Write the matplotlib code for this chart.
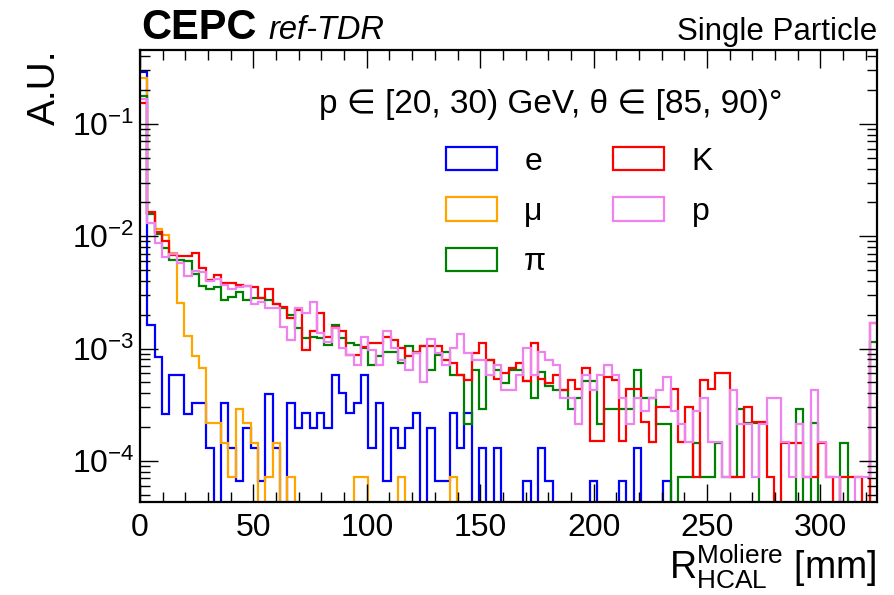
import numpy as np
import matplotlib
matplotlib.use('Agg')
import matplotlib.pyplot as plt
from matplotlib.patches import Patch
from matplotlib.ticker import MultipleLocator, LogLocator

plt.rcParams['font.family'] = ['Liberation Sans', 'DejaVu Sans']
plt.rcParams['mathtext.fontset'] = 'custom'
plt.rcParams['mathtext.rm'] = 'Liberation Sans'
plt.rcParams['mathtext.it'] = 'Liberation Sans:italic'
plt.rcParams['mathtext.bf'] = 'Liberation Sans:bold'

# 100 bins of R_HCAL^Moliere from 0 to 325 mm
edges = np.linspace(0, 325, 101)

labels = ['e', 'μ', 'π', 'K', 'p']
colors = ['#0000ff', '#ffa500', '#008000', '#ff0000', '#ee82ee']

e_vals = [0.29, 1.62e-3, 8.35e-4, 2.6e-4, 5.8e-4, 5.8e-4, 2.6e-4, 3.26e-4, 3.26e-4, 1.31e-4,
          0, 3.26e-4, 1.31e-4, 6.6e-5, 1.98e-4, 1.31e-4, 6.6e-5, 3.94e-4, 1.31e-4, 0,
          3.26e-4, 1.96e-4, 2.65e-4, 1.96e-4, 2.65e-4, 1.96e-4, 5.8e-4, 4.0e-4, 2.65e-4, 3.26e-4,
          5.8e-4, 1.31e-4, 3.26e-4, 6.6e-5, 1.96e-4, 1.31e-4, 1.96e-4, 2.65e-4, 0, 1.96e-4,
          6.6e-5, 6.6e-5, 2.65e-4, 1.31e-4, 2.65e-4, 0, 1.31e-4, 0, 1.31e-4, 0,
          0, 0, 6.6e-5, 0, 1.31e-4, 6.6e-5, 0, 0, 0, 0,
          0, 6.6e-5, 0, 0, 0, 6.6e-5, 0, 1.31e-4, 0, 0,
          0, 6.6e-5, 0, 0, 0, 0, 0, 0, 0, 0,
          0, 0, 0, 0, 0, 0, 0, 0, 0, 0,
          0, 0, 0, 0, 0, 0, 0, 0, 0, 0]

mu_vals = [0.256, 0.016, 0.0115, 0.0103, 0.0071, 2.56e-3, 1.29e-3, 8.6e-4, 6.67e-4, 2.19e-4,
           2.19e-4, 1.45e-4, 7.2e-5, 2.88e-4, 2.19e-4, 1.45e-4, 0, 7.2e-5, 1.45e-4, 0,
           7.2e-5, 0, 0, 0, 0, 0, 0, 0, 0, 7.2e-5,
           7.2e-5, 0, 0, 0, 0, 7.2e-5, 0, 0, 0, 0,
           0, 0, 7.2e-5, 0, 0, 0, 0, 0, 0, 0,
           0, 0, 0, 0, 0, 0, 0, 0, 0, 0,
           0, 0, 0, 0, 0, 0, 0, 0, 0, 0,
           0, 0, 0, 0, 0, 0, 0, 0, 0, 0,
           0, 0, 0, 0, 0, 0, 0, 0, 0, 0,
           0, 0, 0, 0, 0, 0, 0, 0, 0, 0]

pi_vals = [0.177, 0.0158, 0.0105, 0.0078, 0.0062, 0.0062, 0.0060, 0.0046, 0.0036, 0.0034,
           0.0035, 0.0027, 0.0029, 0.0032, 0.0027, 0.0028, 0.0028, 0.0027, 0.0025, 2.28e-3,
           1.99e-3, 1.52e-3, 1.24e-3, 1.28e-3, 1.24e-3, 1.08e-3, 1.62e-3, 1.24e-3, 1.13e-3, 1.08e-3,
           1.01e-3, 7.1e-4, 8.6e-4, 9.4e-4, 9.4e-4, 7.4e-4, 1.05e-3, 9.1e-4, 1.05e-3, 6.4e-4,
           8.8e-4, 9.4e-4, 5.8e-4, 5.8e-4, 2.15e-4, 6.4e-4, 2.9e-4, 7.9e-4, 6.4e-4, 4.9e-4,
           6.4e-4, 6.4e-4, 5.1e-4, 3.6e-4, 6.2e-4, 4.6e-4, 4.3e-4, 4.3e-4, 2.9e-4, 3.6e-4,
           5.1e-4, 5.1e-4, 2.15e-4, 2.9e-4, 2.9e-4, 2.9e-4, 2.9e-4, 6.4e-4, 3.6e-4, 3.6e-4,
           2.15e-4, 2.15e-4, 0, 7.2e-5, 7.2e-5, 1.45e-4, 7.2e-5, 7.2e-5, 1.45e-4, 7.2e-5,
           7.2e-5, 2.9e-4, 2.17e-4, 2.17e-4, 0, 0, 0, 0, 0, 2.9e-4,
           0, 2.17e-4, 0, 0, 0, 1.45e-4, 0, 0, 0, 1.15e-3]

k_vals = [0.155, 0.0166, 0.011, 0.009, 0.0068, 0.0067, 0.0067, 0.0071, 0.0052, 0.0041,
          0.0045, 0.0038, 0.0038, 0.0037, 0.0036, 0.0035, 0.0028, 0.0034, 0.0025, 2.33e-3,
          1.86e-3, 2.21e-3, 9.7e-4, 1.42e-3, 2.09e-3, 1.28e-3, 1.57e-3, 1.42e-3, 8.8e-4, 8.8e-4,
          1.04e-3, 1.11e-3, 1.11e-3, 1.28e-3, 1.19e-3, 1.01e-3, 8.5e-4, 9.4e-4, 1.05e-3, 1.05e-3,
          1.05e-3, 7.9e-4, 7.4e-4, 5.8e-4, 5.25e-4, 9.1e-4, 1.11e-3, 7.9e-4, 5.4e-4, 6.0e-4,
          6.7e-4, 7.4e-4, 5.1e-4, 1.11e-3, 5.4e-4, 4.9e-4, 5.8e-4, 4.3e-4, 5.25e-4, 4.4e-4,
          6.7e-4, 1.5e-4, 1.5e-4, 5.6e-4, 5.25e-4, 1.5e-4, 4.4e-4, 4.4e-4, 2.2e-4, 1.48e-4,
          3.0e-4, 3.0e-4, 4.4e-4, 1.48e-4, 3.0e-4, 7.2e-5, 5.25e-4, 4.4e-4, 6.0e-4, 6.0e-4,
          7.2e-5, 7.2e-5, 3.0e-4, 2.2e-4, 2.2e-4, 7.2e-5, 0, 1.45e-4, 1.45e-4, 1.45e-4,
          7.2e-5, 7.2e-5, 1.45e-4, 7.2e-5, 0, 7.2e-5, 7.2e-5, 7.2e-5, 0, 1.69e-3]

p_vals = [0.166, 0.013, 0.0087, 0.0066, 0.0069, 0.0058, 0.0044, 0.0049, 0.0048, 0.0040,
          0.0042, 0.0037, 0.0034, 0.0035, 0.0036, 0.0025, 0.0026, 0.0023, 0.0023, 1.57e-3,
          1.19e-3, 2.28e-3, 2.06e-3, 2.62e-3, 1.37e-3, 1.15e-3, 1.52e-3, 1.01e-3, 8.8e-4, 7.1e-4,
          1.28e-3, 9.7e-4, 7.1e-4, 1.42e-3, 1.01e-3, 7.9e-4, 6.4e-4, 9.1e-4, 5.0e-4, 1.21e-3,
          9.1e-4, 7.1e-4, 1.01e-3, 1.34e-3, 9.1e-4, 7.9e-4, 7.9e-4, 5.8e-4, 7.1e-4, 4.3e-4,
          4.3e-4, 5.8e-4, 1.01e-3, 5.8e-4, 9.4e-4, 7.9e-4, 7.1e-4, 3.6e-4, 3.6e-4, 2.15e-4,
          5.8e-4, 4.3e-4, 5.8e-4, 7.1e-4, 5.8e-4, 3.6e-4, 2.15e-4, 3.6e-4, 2.8e-4, 3.6e-4,
          4.3e-4, 5.6e-4, 2.8e-4, 2.15e-4, 1.48e-4, 2.8e-4, 3.6e-4, 1.48e-4, 1.48e-4, 7.2e-5,
          4.3e-4, 2.15e-4, 2.15e-4, 7.2e-5, 2.15e-4, 3.6e-4, 3.6e-4, 1.48e-4, 7.2e-5, 2.15e-4,
          7.2e-5, 4.3e-4, 1.48e-4, 7.2e-5, 7.2e-5, 0, 0, 7.2e-5, 7.2e-5, 1.69e-3]

series = [e_vals, mu_vals, pi_vals, k_vals, p_vals]

fig = plt.figure(figsize=(8.95, 5.95), dpi=100)
ax = fig.add_axes([0.1564, 0.1563, 0.8236, 0.7597])

for vals, c in zip(series, colors):
    ax.stairs(vals, edges, baseline=None, color=c, lw=1.6)

ax.set_yscale('log')
ax.set_xlim(0, 325)
ax.set_ylim(4.3e-5, 0.456)

ax.xaxis.set_major_locator(MultipleLocator(50))
ax.xaxis.set_minor_locator(MultipleLocator(10))
ax.yaxis.set_minor_locator(LogLocator(base=10, subs=np.arange(2, 10)))
ax.tick_params(which='both', direction='in', top=True, right=True, labelsize=23, width=1)
ax.tick_params(which='major', length=13)
ax.tick_params(which='minor', length=7)
ax.tick_params(axis='x', which='major', pad=8)
ax.tick_params(axis='y', which='major', pad=4)
for s in ax.spines.values():
    s.set_linewidth(1.6)

ax.set_xlabel(r'R$_{\mathregular{HCAL}}^{\mathregular{Moliere}}$ [mm]', fontsize=27, loc='right')
ax.xaxis.set_label_coords(1.0, -0.088)
ax.set_ylabel('A.U.', fontsize=28, loc='top')
ax.yaxis.set_label_coords(-0.104, 1.0)

handles = [Patch(facecolor='none', edgecolor=c, lw=1.6) for c in colors]
ax.legend(handles, labels, ncol=2, loc='upper left', bbox_to_anchor=(0.376, 0.85),
          frameon=False, fontsize=23, handlelength=1.6, handleheight=0.75,
          handletextpad=0.85, columnspacing=2.1, labelspacing=0.64)

ax.text(0.871, 0.913, 'p ∈ [20, 30) GeV, θ ∈ [85, 90)°', transform=ax.transAxes,
        fontsize=24, ha='right', va='top')

fig.text(0.158, 0.935, 'CEPC', fontsize=30, fontweight='bold', ha='left', va='baseline')
fig.text(0.2995, 0.935, 'ref-TDR', fontsize=23.5, style='italic', ha='left', va='baseline')
fig.text(0.98, 0.932, 'Single Particle', fontsize=22.5, ha='right', va='baseline')

fig.savefig('out.png', dpi=100)
